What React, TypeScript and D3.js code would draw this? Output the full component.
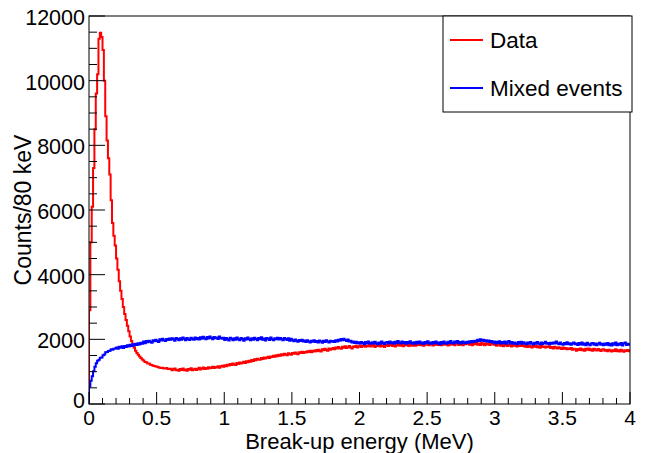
import React from "react";
import * as d3 from "d3";

// Histogram bins: 10 keV wide, 0–4 MeV (400 bins)
const binWidth = 0.01;

const dataCounts = [
  2900, 5000, 6100, 7300, 8500, 9600, 10200, 11300, 11480, 11350, 10950, 10000, 8900, 8150, 7600, 7100, 6300, 5600, 5200, 4900,
  4500, 4150, 3800, 3500, 3250, 3000, 2780, 2600, 2420, 2250, 2090, 1950, 1850, 1740, 1650, 1580, 1520, 1470, 1420, 1380,
  1345, 1300, 1295, 1255, 1250, 1215, 1210, 1185, 1175, 1160, 1150, 1140, 1120, 1115, 1125, 1095, 1100, 1110, 1085, 1080,
  1090, 1040, 1075, 1100, 1045, 1060, 1030, 1085, 1055, 1095, 1040, 1070, 1025, 1080, 1060, 1105, 1045, 1065, 1090, 1050,
  1080, 1120, 1065, 1095, 1130, 1080, 1115, 1090, 1140, 1105, 1125, 1155, 1110, 1145, 1130, 1170, 1125, 1160, 1185, 1150,
  1195, 1165, 1215, 1190, 1235, 1205, 1250, 1220, 1210, 1265, 1240, 1285, 1255, 1275, 1305, 1270, 1320, 1290, 1335, 1310,
  1360, 1330, 1385, 1350, 1400, 1375, 1365, 1420, 1395, 1440, 1410, 1430, 1465, 1425, 1470, 1450, 1495, 1460, 1505, 1480,
  1525, 1490, 1540, 1505, 1555, 1530, 1510, 1570, 1545, 1520, 1580, 1555, 1595, 1560, 1540, 1600, 1575, 1615, 1580, 1605,
  1590, 1635, 1610, 1650, 1600, 1645, 1625, 1665, 1630, 1680, 1645, 1620, 1690, 1660, 1705, 1670, 1650, 1715, 1680, 1700,
  1735, 1690, 1750, 1715, 1760, 1725, 1705, 1770, 1740, 1785, 1730, 1755, 1795, 1745, 1720, 1780, 1760, 1805, 1750, 1775,
  1810, 1760, 1795, 1830, 1770, 1805, 1785, 1840, 1775, 1800, 1825, 1765, 1815, 1790, 1845, 1780, 1820, 1795, 1760, 1810,
  1835, 1790, 1825, 1850, 1795, 1820, 1775, 1845, 1810, 1860, 1800, 1830, 1785, 1855, 1815, 1840, 1795, 1865, 1820, 1805,
  1850, 1805, 1860, 1825, 1875, 1815, 1845, 1800, 1870, 1830, 1855, 1820, 1880, 1840, 1810, 1865, 1835, 1885, 1825, 1850,
  1815, 1865, 1830, 1880, 1845, 1810, 1870, 1835, 1890, 1850, 1820, 1860, 1875, 1825, 1885, 1840, 1815, 1870, 1845, 1860,
  1880, 1830, 1865, 1815, 1875, 1850, 1895, 1835, 1870, 1825, 1885, 1855, 1820, 1880, 1840, 1870, 1825, 1860, 1890, 1835,
  1850, 1800, 1835, 1860, 1805, 1830, 1785, 1845, 1815, 1795, 1840, 1810, 1780, 1835, 1800, 1825, 1775, 1820, 1795, 1830,
  1790, 1815, 1770, 1800, 1760, 1805, 1780, 1750, 1795, 1770, 1810, 1755, 1785, 1740, 1790, 1765, 1780, 1745, 1775, 1760,
  1785, 1735, 1760, 1720, 1770, 1740, 1715, 1755, 1725, 1700, 1745, 1710, 1730, 1690, 1720, 1700, 1735, 1680, 1710, 1690,
  1650, 1700, 1670, 1715, 1660, 1690, 1645, 1705, 1675, 1720, 1665, 1695, 1650, 1710, 1680, 1655, 1700, 1670, 1640, 1685,
  1690, 1645, 1670, 1630, 1680, 1655, 1620, 1665, 1640, 1690, 1635, 1660, 1625, 1675, 1645, 1615, 1660, 1640, 1670, 1630,
];

const mixedCounts = [
  540, 720, 860, 1010, 1150, 1260, 1340, 1370, 1430, 1440, 1510, 1530, 1600, 1610, 1640, 1650, 1690, 1680, 1710, 1720,
  1750, 1705, 1770, 1740, 1785, 1730, 1790, 1760, 1815, 1775, 1830, 1790, 1845, 1810, 1860, 1825, 1880, 1840, 1895, 1865,
  1930, 1880, 1945, 1910, 1960, 1925, 1895, 1975, 1940, 1990, 1950, 1920, 2000, 1965, 2015, 1970, 1945, 2010, 1980, 2025,
  1985, 2035, 2000, 1960, 2045, 2010, 1975, 2030, 1990, 2055, 2015, 1970, 2040, 2005, 1980, 2050, 2020, 1990, 2060, 2000,
  2045, 1995, 2065, 2020, 2080, 2035, 2000, 2070, 2025, 2090, 2040, 2005, 2075, 2030, 2060, 2010, 2085, 2045, 2015, 2050,
  1980, 2040, 2005, 1965, 2050, 2015, 1975, 2035, 1990, 2060, 2000, 1970, 2045, 2010, 1960, 2030, 1995, 2055, 2005, 1975,
  2035, 1985, 2050, 2010, 1970, 2040, 2000, 2065, 1990, 2025, 1965, 2045, 2015, 1980, 2055, 2005, 1975, 2035, 2000, 2050,
  1995, 2040, 2005, 1970, 2045, 2010, 1980, 2030, 1960, 2015, 1975, 1940, 1995, 1955, 1925, 1980, 1945, 1990, 1930, 1965,
  1920, 1970, 1935, 1900, 1960, 1925, 1975, 1915, 1950, 1905, 1965, 1935, 1895, 1955, 1920, 1975, 1930, 1905, 1960, 1925,
  1950, 1915, 1970, 1935, 1985, 1960, 2010, 1975, 2020, 1980, 1945, 1995, 1930, 1960, 1905, 1935, 1890, 1925, 1880, 1910,
  1870, 1920, 1885, 1850, 1915, 1875, 1935, 1890, 1860, 1910, 1870, 1925, 1880, 1850, 1905, 1865, 1930, 1885, 1855, 1900,
  1920, 1870, 1935, 1880, 1910, 1860, 1925, 1890, 1950, 1905, 1870, 1930, 1885, 1915, 1860, 1920, 1880, 1940, 1895, 1865,
  1910, 1865, 1925, 1880, 1935, 1870, 1900, 1855, 1920, 1885, 1940, 1875, 1905, 1860, 1915, 1880, 1930, 1870, 1900, 1850,
  1920, 1875, 1935, 1890, 1860, 1925, 1885, 1945, 1895, 1870, 1930, 1900, 1950, 1880, 1915, 1870, 1935, 1905, 1880, 1925,
  1895, 1940, 1905, 1950, 1915, 1960, 1930, 1985, 1945, 2000, 1960, 1990, 1940, 1975, 1930, 1965, 1920, 1950, 1905, 1935,
  1875, 1925, 1885, 1940, 1870, 1915, 1880, 1930, 1860, 1910, 1945, 1875, 1920, 1865, 1905, 1880, 1850, 1915, 1870, 1925,
  1860, 1910, 1870, 1845, 1900, 1865, 1920, 1875, 1840, 1895, 1860, 1915, 1870, 1845, 1905, 1855, 1890, 1925, 1860, 1885,
  1850, 1895, 1860, 1905, 1870, 1930, 1880, 1845, 1900, 1855, 1835, 1890, 1850, 1910, 1845, 1880, 1830, 1875, 1905, 1845,
  1870, 1825, 1885, 1840, 1900, 1835, 1870, 1820, 1895, 1845, 1815, 1870, 1890, 1830, 1875, 1815, 1860, 1895, 1830, 1865,
  1815, 1870, 1830, 1890, 1820, 1860, 1810, 1880, 1835, 1900, 1815, 1865, 1830, 1885, 1810, 1870, 1905, 1825, 1860, 1835,
];

const xMajorTicks = [0, 0.5, 1, 1.5, 2, 2.5, 3, 3.5, 4];
const xTickLabels = ["0", "0.5", "1", "1.5", "2", "2.5", "3", "3.5", "4"];
const yMajorTicks = [0, 2000, 4000, 6000, 8000, 10000, 12000];
const yTickLabels = ["0", "2000", "4000", "6000", "8000", "10000", "12000"];
const seriesNames = ["Data", "Mixed events"];
const seriesColors = ["#ff0000", "#0000ff"];

const FONT = "'Liberation Sans', Arial, Helvetica, sans-serif";

export default function App() {
  const W = 646;
  const H = 453;
  const x = d3.scaleLinear().domain([0, 4]).range([89, 630]);
  const y = d3.scaleLinear().domain([0, 12000]).range([404, 16]);
  const [x0, x1] = x.range();
  const [yb, yt] = y.range();

  const line = d3
    .line<[number, number]>()
    .x((d) => x(d[0]))
    .y((d) => y(d[1]));

  const stepPoints = (vals: number[]): [number, number][] => {
    const pts: [number, number][] = [[0, 0]];
    vals.forEach((v, i) => {
      pts.push([i * binWidth, v]);
      pts.push([(i + 1) * binWidth, v]);
    });
    return pts;
  };

  const series = [dataCounts, mixedCounts];

  const xMinor = d3.range(0, 40).map((i) => i / 10).filter((v) => Math.abs(v * 2 - Math.round(v * 2)) > 1e-6);
  const yMinor = d3.range(0, 24).map((i) => i * 500).filter((v) => v % 2000 !== 0);

  return (
    <svg
      width={W}
      height={H}
      style={{ position: "absolute", left: 0, top: 0, background: "#fff" }}
      fontFamily={FONT}
    >
      <rect x={0} y={0} width={W} height={H} fill="#fff" />
      <defs>
        <clipPath id="plotClip">
          <rect x={x0} y={yt} width={x1 - x0} height={yb - yt} />
        </clipPath>
      </defs>

      {/* histograms */}
      <g clipPath="url(#plotClip)" fill="none" strokeWidth={2} strokeLinejoin="miter">
        {series.map((vals, k) => (
          <path key={k} d={line(stepPoints(vals)) || ""} stroke={seriesColors[k]} />
        ))}
      </g>

      {/* frame */}
      <rect x={x0} y={yt} width={x1 - x0} height={yb - yt} fill="none" stroke="#000" strokeWidth={1} />

      {/* ticks */}
      <g stroke="#000" strokeWidth={1}>
        {xMajorTicks.map((t) => (
          <line key={"xM" + t} x1={x(t)} x2={x(t)} y1={yb} y2={yb - 12} />
        ))}
        {xMinor.map((t) => (
          <line key={"xm" + t} x1={x(t)} x2={x(t)} y1={yb} y2={yb - 6} />
        ))}
        {yMajorTicks.map((t) => (
          <line key={"yM" + t} x1={x0} x2={x0 + 16} y1={y(t)} y2={y(t)} />
        ))}
        {yMinor.map((t) => (
          <line key={"ym" + t} x1={x0} x2={x0 + 8} y1={y(t)} y2={y(t)} />
        ))}
      </g>

      {/* tick labels */}
      <g fill="#000">
        {xMajorTicks.map((t, i) => (
          <text key={"xl" + t} x={x(t)} y={424.5} textAnchor="middle" fontSize={21}>
            {xTickLabels[i]}
          </text>
        ))}
        {yMajorTicks.map((t, i) => (
          <text key={"yl" + t} x={85} y={t === 0 ? y(t) + 4 : y(t) + 9} textAnchor="end" fontSize={21.5}>
            {yTickLabels[i]}
          </text>
        ))}
      </g>

      {/* axis titles */}
      <text x={(x0 + x1) / 2} y={449} textAnchor="middle" fontSize={22}>
        Break-up energy (MeV)
      </text>
      <text
        transform={`translate(30.5, ${(yb + yt) / 2}) rotate(-90)`}
        textAnchor="middle"
        fontSize={23}
      >
        Counts/80 keV
      </text>

      {/* legend */}
      <g>
        <rect x={443} y={16} width={189} height={96} fill="#fff" stroke="#000" strokeWidth={1} />
        {seriesNames.map((name, k) => (
          <g key={name}>
            <line x1={450} x2={483} y1={40 + k * 48} y2={40 + k * 48} stroke={seriesColors[k]} strokeWidth={2} />
            <text x={490} y={48 + k * 48} fontSize={22.5}>
              {name}
            </text>
          </g>
        ))}
      </g>
    </svg>
  );
}
